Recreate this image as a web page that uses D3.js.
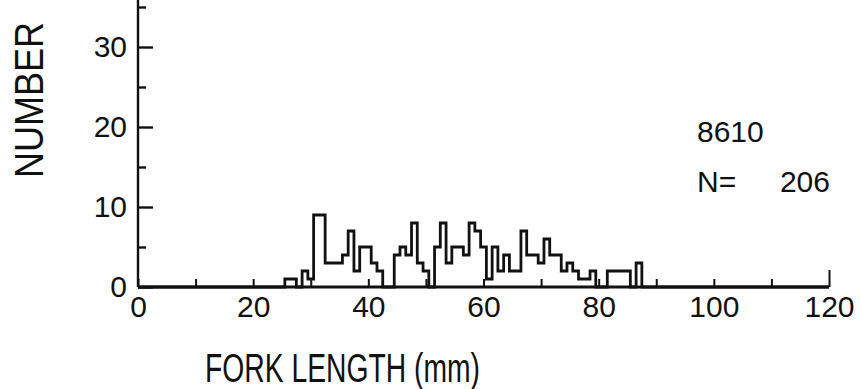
<!DOCTYPE html>
<html>
<head>
<meta charset="utf-8">
<script src="https://cdn.jsdelivr.net/npm/d3@7"></script>
<style>
  html, body { margin: 0; padding: 0; background: #fff; }
  svg { display: block; }
  text { font-family: "Liberation Sans", Arial, sans-serif; fill: #111; }
</style>
</head>
<body>
<svg id="chart" width="860" height="389"></svg>
<script>
// Fork length frequency, sample 8610 (1 mm length classes)
const forkLengthMm = [26, 27, 28, 29, 30, 31, 32, 33, 34, 35, 36, 37, 38, 39, 40,
  41, 42, 43, 44, 45, 46, 47, 48, 49, 50, 51, 52, 53, 54, 55, 56, 57, 58, 59, 60,
  61, 62, 63, 64, 65, 66, 67, 68, 69, 70, 71, 72, 73, 74, 75, 76, 77, 78, 79, 80,
  81, 82, 83, 84, 85, 86, 87];
const fishCount = [1, 1, 0, 2, 1, 9, 9, 3, 3, 3, 4, 7, 2, 5, 5,
  3, 2, 0, 0, 4, 5, 4, 8, 3, 2, 0, 5, 8, 3, 5, 5, 4, 8, 7, 5,
  1, 5, 2, 4, 2, 2, 7, 4, 4, 3, 6, 4, 4, 2, 3, 2, 1, 1, 2, 0,
  0, 2, 2, 2, 2, 0, 3];

const xTicks = [0, 10, 20, 30, 40, 50, 60, 70, 80, 90, 100, 110, 120];
const xTickLabels = ["0", "", "20", "", "40", "", "60", "", "80", "", "100", "", "120"];
const yMajorTicks = [0, 10, 20, 30];
const yMinorTicks = [5, 15, 25, 35];

const sampleId = "8610";
const sampleN = d3.sum(fishCount);

const svg = d3.select("#chart");
const x = d3.scaleLinear().domain([0, 120]).range([138, 829]);
const y = d3.scaleLinear().domain([0, 36]).range([287, -1]);

const ink = "#111";
const lw = 2.4;

// y axis: line, major + minor inward ticks, labels on the left
svg.append("line")
  .attr("x1", x(0)).attr("x2", x(0))
  .attr("y1", y(0)).attr("y2", 0)
  .attr("stroke", ink).attr("stroke-width", lw);

const yAxis = svg.append("g")
  .attr("transform", `translate(${x(0)},0)`)
  .call(d3.axisLeft(y).tickValues(yMajorTicks).tickSizeInner(-15).tickSizeOuter(0)
    .tickPadding(11).tickFormat(d3.format("d")));
yAxis.select(".domain").remove();
yAxis.selectAll(".tick line").attr("stroke", ink).attr("stroke-width", lw);
yAxis.selectAll(".tick text")
  .attr("font-size", 30).attr("font-family", null).attr("fill", ink);

const yMinor = svg.append("g")
  .attr("transform", `translate(${x(0)},0)`)
  .call(d3.axisLeft(y).tickValues(yMinorTicks).tickSizeInner(-8).tickSizeOuter(0).tickFormat(""));
yMinor.select(".domain").remove();
yMinor.selectAll(".tick line").attr("stroke", ink).attr("stroke-width", lw);

// x axis: baseline, short upward ticks, labels underneath
svg.append("line")
  .attr("x1", x(0)).attr("x2", x(120))
  .attr("y1", y(0)).attr("y2", y(0))
  .attr("stroke", ink).attr("stroke-width", lw + 0.4);

const xAxis = svg.append("g")
  .attr("transform", `translate(0,${y(0)})`)
  .call(d3.axisBottom(x).tickValues(xTicks).tickSizeInner(-8).tickSizeOuter(0)
    .tickPadding(9).tickFormat((d, i) => xTickLabels[i]));
xAxis.select(".domain").remove();
xAxis.selectAll(".tick line").attr("stroke", ink).attr("stroke-width", 2)
  .attr("y2", d => d === 120 ? -17 : -8);
xAxis.selectAll(".tick text")
  .attr("font-size", 30).attr("font-family", null).attr("fill", ink);

// histogram drawn as a single stepped outline
const edges = [[0, 0], [forkLengthMm[0] - 0.5, 0]];
forkLengthMm.forEach((mm, i) => edges.push([mm - 0.5, fishCount[i]]));
edges.push([forkLengthMm[forkLengthMm.length - 1] + 0.5, 0]);
edges.push([120, 0]);

const step = d3.line()
  .x(d => x(d[0]))
  .y(d => y(d[1]))
  .curve(d3.curveStepAfter);

svg.append("path")
  .attr("d", step(edges))
  .attr("fill", "none")
  .attr("stroke", ink)
  .attr("stroke-width", 2.8)
  .attr("stroke-linejoin", "miter");

// axis titles
svg.append("text")
  .attr("x", 205).attr("y", 382)
  .attr("font-size", 40)
  .attr("textLength", 275).attr("lengthAdjust", "spacingAndGlyphs")
  .text("FORK LENGTH (mm)");

svg.append("text")
  .attr("transform", "translate(43,178) rotate(-90)")
  .attr("font-size", 40)
  .attr("textLength", 156).attr("lengthAdjust", "spacingAndGlyphs")
  .text("NUMBER");

// sample annotation
svg.append("text")
  .attr("x", 697).attr("y", 142).attr("font-size", 30)
  .text(sampleId);
svg.append("text")
  .attr("x", 697).attr("y", 192).attr("font-size", 30)
  .text("N=");
svg.append("text")
  .attr("x", 830).attr("y", 192).attr("font-size", 30)
  .attr("text-anchor", "end")
  .text(String(sampleN));
</script>
</body>
</html>
